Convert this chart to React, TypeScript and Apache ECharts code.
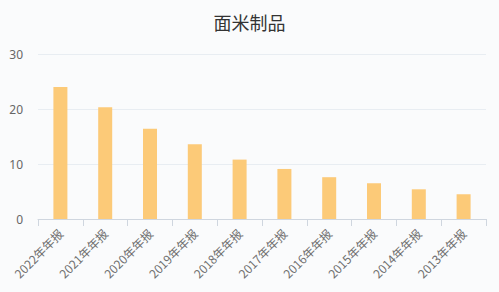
import React, { useEffect, useRef } from "react";
import * as echarts from "echarts";

const categories = ["2022年年报", "2021年年报", "2020年年报", "2019年年报", "2018年年报", "2017年年报", "2016年年报", "2015年年报", "2014年年报", "2013年年报"];
const values = [24.0, 20.3, 16.4, 13.6, 10.8, 9.1, 7.6, 6.5, 5.4, 4.5];
const yTicks = [0, 10, 20, 30];
const title = "面米制品";

export default function App() {
  const ref = useRef<HTMLDivElement>(null);
  useEffect(() => {
    document.body.style.margin = "0";
    const chart = echarts.init(ref.current!, undefined, { renderer: "svg" });
    chart.setOption({
      animation: false,
      backgroundColor: "#fafbfc",
      title: {
        text: title,
        left: "center",
        top: 8,
        textStyle: { color: "#333", fontSize: 18, fontWeight: "normal", fontFamily: "Noto Sans CJK SC" },
      },
      grid: { left: 38, right: 13, top: 54, bottom: 73 },
      xAxis: {
        type: "category",
        data: categories,
        axisLine: { lineStyle: { color: "#cfd6df" } },
        axisTick: { show: true, alignWithLabel: false, lineStyle: { color: "#cfd6df" }, length: 7 },
        axisLabel: { rotate: 45, color: "#6f6f6f", fontSize: 12, margin: 12, fontFamily: "Noto Sans CJK SC", interval: 0 },
      },
      yAxis: {
        type: "value",
        min: yTicks[0],
        max: yTicks[yTicks.length - 1],
        interval: 10,
        axisLine: { show: false },
        axisTick: { show: false },
        splitLine: { lineStyle: { color: "#e8edf2" } },
        axisLabel: { color: "#666", fontSize: 12, margin: 15, fontFamily: "Noto Sans" },
      },
      series: [
        {
          type: "bar",
          data: values,
          barWidth: 14,
          itemStyle: { color: "#fcca78" },
        },
      ],
    });
    return () => chart.dispose();
  }, []);
  return <div ref={ref} style={{ width: 499, height: 292 }} />;
}
